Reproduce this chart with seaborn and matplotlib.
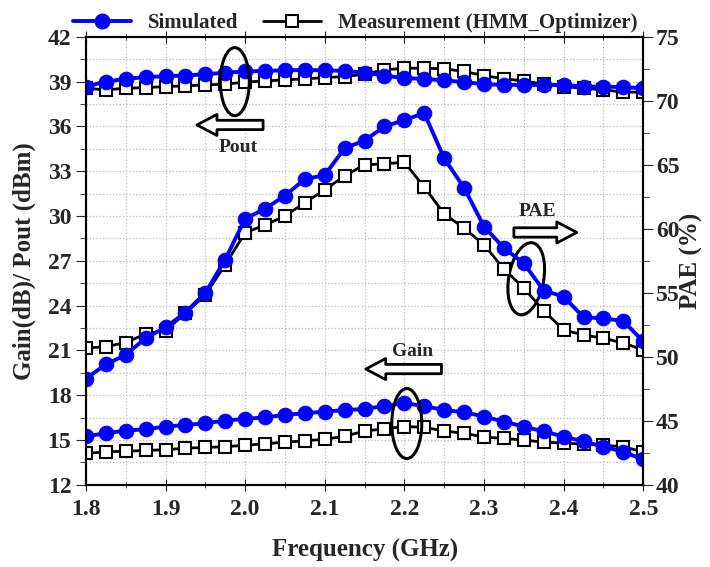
import numpy as np
import pandas as pd
import matplotlib
matplotlib.use('Agg')
import matplotlib.pyplot as plt
import matplotlib.transforms as mtrans
from matplotlib.patches import Ellipse
from matplotlib.ticker import MultipleLocator
import seaborn as sns

# === DATA ===
freq = [1.8, 1.825, 1.85, 1.875, 1.9, 1.925, 1.95, 1.975, 2.0, 2.025, 2.05, 2.075, 2.1,
        2.125, 2.15, 2.175, 2.2, 2.225, 2.25, 2.275, 2.3, 2.325, 2.35, 2.375, 2.4,
        2.425, 2.45, 2.475, 2.5]

pout_sim = [38.67, 39.0, 39.19, 39.3, 39.37, 39.41, 39.5, 39.6, 39.68, 39.72, 39.76, 39.78, 39.76,
            39.72, 39.6, 39.41, 39.23, 39.19, 39.08, 38.97, 38.83, 38.78, 38.78, 38.78, 38.78,
            38.67, 38.67, 38.63, 38.56]
pout_meas = [38.56, 38.45, 38.56, 38.6, 38.67, 38.72, 38.78, 38.83, 38.97, 39.05, 39.12, 39.19, 39.27,
             39.34, 39.5, 39.79, 39.9, 39.9, 39.86, 39.68, 39.41, 39.19, 39.05, 38.83, 38.67,
             38.56, 38.45, 38.3, 38.3]

gain_sim = [15.25, 15.45, 15.63, 15.72, 15.9, 16.0, 16.12, 16.3, 16.41, 16.52, 16.68, 16.79, 16.9,
            17.0, 17.08, 17.28, 17.46, 17.28, 17.0, 16.86, 16.57, 16.23, 15.9, 15.57, 15.23,
            14.9, 14.56, 14.2, 13.7]
gain_meas = [14.1, 14.2, 14.25, 14.3, 14.35, 14.45, 14.5, 14.55, 14.65, 14.75, 14.85, 14.95, 15.05,
             15.25, 15.6, 15.75, 15.9, 15.85, 15.6, 15.45, 15.2, 15.1, 15.0, 14.85, 14.8,
             14.72, 14.65, 14.55, 14.2]

pae_sim = [48.3, 49.4, 50.16, 51.46, 52.3, 53.46, 55.0, 57.6, 60.8, 61.56, 62.6, 63.88, 64.2,
           66.3, 66.9, 68.0, 68.5, 69.04, 65.5, 63.2, 60.18, 58.5, 57.3, 55.18, 54.7,
           53.1, 53.0, 52.8, 51.2]
pae_meas = [50.68, 50.8, 51.1, 51.8, 52.05, 53.4, 54.84, 57.2, 59.7, 60.3, 61.0, 62.05, 63.05,
            64.14, 65.0, 65.08, 65.2, 63.26, 61.17, 60.05, 58.75, 56.85, 55.37, 53.6, 52.1,
            51.7, 51.46, 51.07, 50.55]

sns.set_style('ticks')
plt.rcParams['font.family'] = ['Liberation Serif', 'DejaVu Serif']
plt.rcParams['font.weight'] = 'bold'
plt.rcParams['axes.labelweight'] = 'bold'

df = pd.DataFrame({'freq': freq, 'pout_sim': pout_sim, 'pout_meas': pout_meas,
                   'gain_sim': gain_sim, 'gain_meas': gain_meas,
                   'pae_sim': pae_sim, 'pae_meas': pae_meas})

fig = plt.figure(figsize=(7.1, 5.67), dpi=100)
ax = fig.add_axes([0.121, 0.145, 0.785, 0.79])
ax2 = ax.twinx()

sim_kw = dict(color='#0000ff', marker='o', markersize=10.5, linewidth=2.8,
              markeredgecolor='#0000ff')
meas_kw = dict(color='black', marker='s', markersize=8.5, linewidth=2,
               markerfacecolor='white', markeredgecolor='black', markeredgewidth=1.5)

for col in ['pout', 'gain']:
    sns.lineplot(data=df, x='freq', y=col + '_meas', ax=ax, **meas_kw)
    sns.lineplot(data=df, x='freq', y=col + '_sim', ax=ax, **sim_kw)
sns.lineplot(data=df, x='freq', y='pae_meas', ax=ax2, **meas_kw)
sns.lineplot(data=df, x='freq', y='pae_sim', ax=ax2, **sim_kw)

ax.set_xlim(1.8, 2.5)
ax.set_ylim(12, 42)
ax2.set_ylim(40, 75)
ax.xaxis.set_major_locator(MultipleLocator(0.1))
ax.xaxis.set_minor_locator(MultipleLocator(0.05))
ax.yaxis.set_major_locator(MultipleLocator(3))
ax.yaxis.set_minor_locator(MultipleLocator(1.5))
ax2.yaxis.set_major_locator(MultipleLocator(5))
ax2.yaxis.set_minor_locator(MultipleLocator(2.5))
ax.set_xticklabels([f'{v:.1f}' for v in ax.get_xticks()])

ax.grid(which='both', linestyle=':', color='#bbbbbb', linewidth=0.9)
ax.tick_params(axis='x', which='both', direction='inout', top=True, labelsize=17, pad=6)
ax.tick_params(axis='x', which='major', length=8)
ax.tick_params(axis='x', which='minor', length=5)
ax.tick_params(axis='y', which='major', direction='out', length=7, labelsize=17)
ax.tick_params(axis='y', which='minor', direction='out', length=4)
ax2.tick_params(axis='y', which='major', direction='out', length=7, labelsize=17, pad=2)
ax2.tick_params(axis='y', which='minor', direction='out', length=4)
for a in (ax, ax2):
    for s in a.spines.values():
        s.set_linewidth(1.5)
        s.set_color('black')

ax.set_xlabel('Frequency (GHz)', fontsize=18, labelpad=14)
ax.set_ylabel('Gain(dB)/ Pout (dBm)', fontsize=18, labelpad=8)
ax2.set_ylabel('PAE (%)', fontsize=18, labelpad=0)

# annotations: labels, hollow arrows and ellipses
arrow_kw = dict(arrowstyle='simple,head_length=0.9,head_width=0.95,tail_width=0.42',
                mutation_scale=16, facecolor='white', edgecolor='black', linewidth=2)
txt_kw = dict(fontsize=14, fontweight='bold', ha='center', va='center')

ax2.text(1.991, 34.6, 'Pout', transform=ax.transData, **txt_kw)
ax2.annotate('', xy=(1.936, 36.1), xytext=(2.026, 36.1),
             xycoords=ax.transData, textcoords=ax.transData, arrowprops=arrow_kw)
ax2.text(2.367, 30.3, 'PAE', transform=ax.transData, **txt_kw)
ax2.annotate('', xy=(2.42, 28.9), xytext=(2.334, 28.9),
             xycoords=ax.transData, textcoords=ax.transData, arrowprops=arrow_kw)
ax2.text(2.21, 20.9, 'Gain', transform=ax.transData, **txt_kw)
ax2.annotate('', xy=(2.148, 19.75), xytext=(2.25, 19.75),
             xycoords=ax.transData, textcoords=ax.transData, arrowprops=arrow_kw)

ellipses = [(1.987, 39.0, 0.29, 0.68, 0), (2.353, 25.8, 0.35, 0.73, -10), (2.203, 16.1, 0.30, 0.70, 0)]
for ex, ey, w, h, ang in ellipses:
    tr = fig.dpi_scale_trans + mtrans.ScaledTranslation(ex, ey, ax.transData)
    ax2.add_patch(Ellipse((0, 0), w, h, angle=ang, transform=tr, fill=False,
                          edgecolor='black', linewidth=2.2))

handles = [plt.Line2D([], [], **sim_kw), plt.Line2D([], [], **meas_kw)]
fig.legend(handles, ['Simulated', 'Measurement (HMM_Optimizer)'], loc='upper center',
           bbox_to_anchor=(0.5, 1.01), ncol=2, frameon=False, fontsize=15,
           handlelength=2.8, columnspacing=1.2)

fig.savefig('out.png', dpi=100)
